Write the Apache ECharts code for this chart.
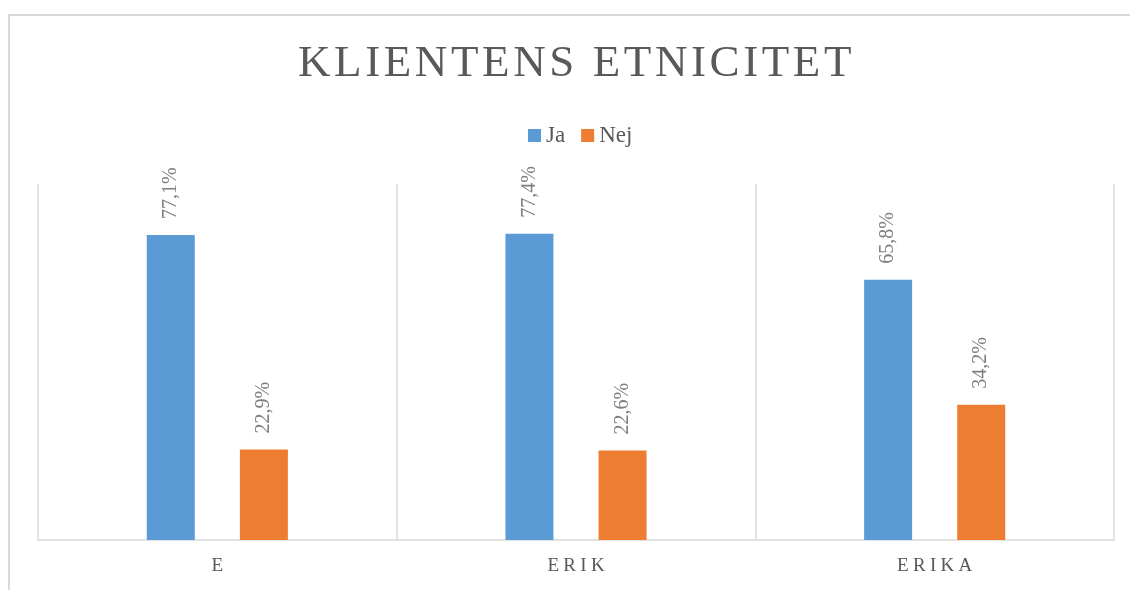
<!DOCTYPE html>
<html lang="sv">
<head>
    <meta charset="UTF-8">
    <title>Klientens etnicitet</title>
    <script src="https://cdn.jsdelivr.net/npm/echarts@6/dist/echarts.min.js"></script>
    <style>
        html, body { margin: 0; padding: 0; background: #fff; }
    </style>
</head>
<body>
   <div id="main" style="width: 1130px;height:590px;"></div>
   <script type="text/javascript">
       // data
       var titleText = 'KLIENTENS ETNICITET';
       var categories = ['E', 'ERIK', 'ERIKA'];
       var seriesNames = ['Ja', 'Nej'];
       var jaValues = [77.1, 77.4, 65.8];
       var nejValues = [22.9, 22.6, 34.2];

       var textGrey = '#595959';
       var serif = '"Liberation Serif", "DejaVu Serif", serif';

       var myChart = echarts.init(document.getElementById('main'));

       // wide letter spacing, done with one rich-text piece per letter
       function spaced(str) {
           return str.split('').map(function (c, i) {
               return '{' + (i < str.length - 1 ? 's' : 'e') + '|' + c + '}';
           }).join('');
       }

       function pct(p) {
           return p.value.toFixed(1).replace('.', ',') + '%';
       }

       var labelStyle = {
           show: true,
           position: 'top',
           rotate: 90,
           align: 'left',
           verticalAlign: 'middle',
           distance: 16,
           color: '#7f7f7f',
           fontFamily: serif,
           fontSize: 20,
           formatter: pct
       };

       var option = {
           animation: false,
           title: {
               text: spaced(titleText),
               left: 293,
               top: 37,
               textStyle: {
                   color: textGrey,
                   fontFamily: serif,
                   fontSize: 45,
                   fontWeight: 'normal',
                   rich: {
                       s: { color: textGrey, fontFamily: serif, fontSize: 45, padding: [0, 3.6, 0, 0] },
                       e: { color: textGrey, fontFamily: serif, fontSize: 45 }
                   }
               }
           },
           legend: {
               data: seriesNames,
               top: 119,
               left: 523,
               itemWidth: 13,
               itemHeight: 13,
               itemGap: 16,
               icon: 'rect',
               textStyle: { color: textGrey, fontFamily: serif, fontSize: 23, padding: [0, 0, 0, 0] }
           },
           graphic: [{
               type: 'rect',
               shape: { x: 9, y: 15, width: 1200, height: 700 },
               style: { fill: 'none', stroke: '#d9d9d9', lineWidth: 2 },
               silent: true
           }],
           grid: { left: 38, right: 16, top: 184, bottom: 50 },
           xAxis: {
               type: 'category',
               data: categories,
               axisLine: { lineStyle: { color: '#d9d9d9', width: 1.5 } },
               axisTick: { show: false },
               splitLine: { show: true, lineStyle: { color: '#d9d9d9', width: 1.5 } },
               axisLabel: {
                   color: textGrey,
                   fontFamily: serif,
                   fontSize: 19,
                   margin: 17,
                   formatter: function (v) { return spaced(v); },
                   rich: {
                       s: { color: textGrey, fontFamily: serif, fontSize: 19, padding: [0, 4.3, 0, 0] },
                       e: { color: textGrey, fontFamily: serif, fontSize: 19 }
                   }
               }
           },
           yAxis: {
               type: 'value',
               min: 0,
               max: 90,
               show: false,
               splitLine: { show: false }
           },
           series: [
               {
                   name: 'Ja',
                   type: 'bar',
                   data: jaValues,
                   barWidth: 48,
                   barGap: '94%',
                   itemStyle: { color: '#5b9bd5' },
                   label: labelStyle
               },
               {
                   name: 'Nej',
                   type: 'bar',
                   data: nejValues,
                   barWidth: 48,
                   barGap: '94%',
                   itemStyle: { color: '#ed7d31' },
                   label: labelStyle
               }
           ]
       };

       myChart.setOption(option);
   </script>
</body>
</html>
